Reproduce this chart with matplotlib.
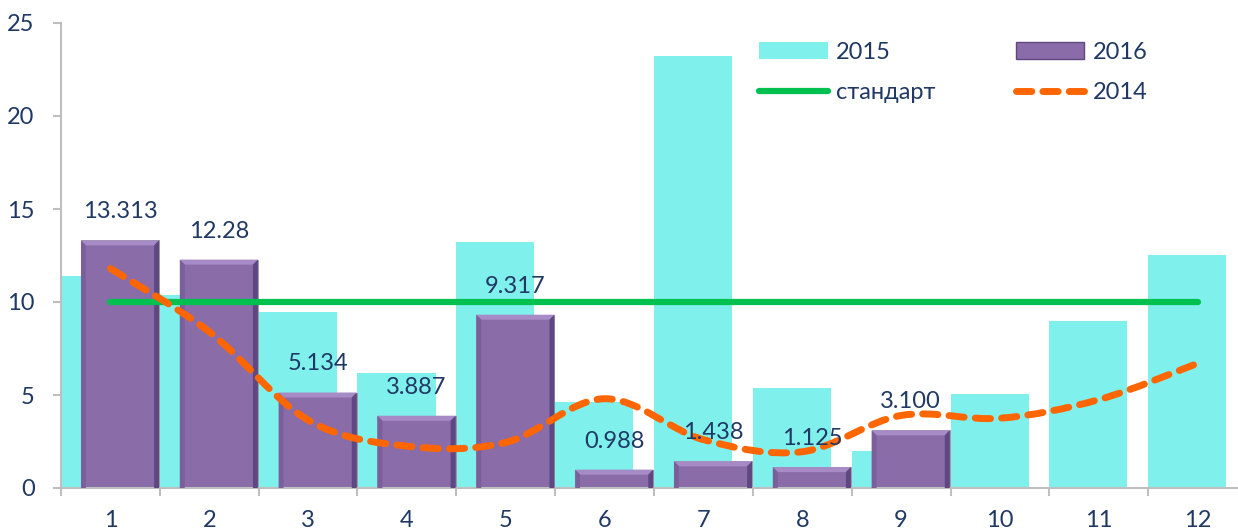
import numpy as np
import matplotlib.pyplot as plt
from matplotlib.patches import Polygon, Rectangle, PathPatch
from matplotlib.path import Path
from matplotlib.lines import Line2D

plt.rcParams['font.family'] = ['Lato', 'DejaVu Sans']

# data
months = [1, 2, 3, 4, 5, 6, 7, 8, 9, 10, 11, 12]
y2015 = [11.4, 10.4, 9.45, 6.2, 13.2, 4.6, 23.25, 5.35, 2.0, 5.05, 9.0, 12.5]
y2016 = [13.313, 12.28, 5.134, 3.887, 9.317, 0.988, 1.438, 1.125, 3.100]
labels2016 = ["13.313", "12.28", "5.134", "3.887", "9.317", "0.988", "1.438", "1.125", "3.100"]
y2014 = [11.8, 8.4, 3.65, 2.25, 2.45, 4.8, 2.6, 1.95, 3.9, 3.75, 4.75, 6.7]
standard = [10] * 12

TXT = '#203864'
CYAN = '#80F0EC'
PURPLE = '#8A6CA9'
GREEN = '#00C050'
ORANGE = '#FF6600'
GRAY = '#BFBFBF'
FS = 17

fig = plt.figure(figsize=(12.38, 5.32), dpi=100)
ax = fig.add_axes([61 / 1238, 44 / 532, 1186 / 1238, 465 / 532])

x = np.array(months, dtype=float)
w = 0.79
ax.bar(x - 0.105, y2015, width=w, color=CYAN, zorder=1)

x16 = x[:len(y2016)] + 0.097
bars = ax.bar(x16, y2016, width=w, color=PURPLE, edgecolor='#9A9A9A', linewidth=0.6, zorder=2)

# bevel effect on 2016 bars
bx, by = 0.05, 0.27
for b in bars:
    x0, x1 = b.get_x(), b.get_x() + b.get_width()
    h = b.get_height()
    byy = min(by, h / 3)
    ax.add_patch(Polygon([(x0, h), (x1, h), (x1 - bx, h - byy), (x0 + bx, h - byy)],
                         closed=True, facecolor='#A68BC6', edgecolor='none', zorder=3))
    ax.add_patch(Polygon([(x0, 0), (x0, h), (x0 + bx, h - byy), (x0 + bx, 0)],
                         closed=True, facecolor='#7B5F9B', edgecolor='none', zorder=3))
    ax.add_patch(Polygon([(x1, 0), (x1, h), (x1 - bx, h - byy), (x1 - bx, 0)],
                         closed=True, facecolor='#5F4881', edgecolor='none', zorder=3))

for xi, yi, lab in zip(x16, y2016, labels2016):
    ax.annotate(lab, (xi, yi), xytext=(0, 13), textcoords='offset points',
                ha='center', va='bottom', fontsize=FS, color=TXT, zorder=6)

ax.plot(x, standard, color=GREEN, lw=4.5, solid_capstyle='round', zorder=4)

# smoothed 2014 line (Bezier through the points, like a spreadsheet "smoothed line")
pts = np.column_stack([x, y2014])
verts = [pts[0]]
codes = [Path.MOVETO]
n = len(pts)
for i in range(n - 1):
    p0 = pts[max(i - 1, 0)]
    p1 = pts[i]
    p2 = pts[i + 1]
    p3 = pts[min(i + 2, n - 1)]
    verts += [p1 + (p2 - p0) / 6, p2 - (p3 - p1) / 6, p2]
    codes += [Path.CURVE4] * 3
ax.add_patch(PathPatch(Path(verts, codes), facecolor='none', edgecolor=ORANGE, lw=5,
                       linestyle=(0, (2.2, 1.6)), capstyle='round', zorder=5))

ax.set_xlim(0.5, 12.5)
ax.set_ylim(0, 25)
ax.set_yticks([0, 5, 10, 15, 20, 25])
ax.set_xticks(months)
ax.set_xticks(np.arange(0.5, 13, 1), minor=True)
ax.tick_params(axis='x', which='major', length=0, pad=16, labelsize=FS, labelcolor=TXT)
ax.tick_params(axis='x', which='minor', length=6, width=1.5, color=GRAY, direction='out')
ax.tick_params(axis='y', length=6, width=1.5, color=GRAY, pad=13, labelsize=FS, labelcolor=TXT)
for s in ['top', 'right']:
    ax.spines[s].set_visible(False)
for s in ['left', 'bottom']:
    ax.spines[s].set_color(GRAY)
    ax.spines[s].set_linewidth(1.5)

handles = [Rectangle((0, 0), 1, 1, facecolor=CYAN),
           Line2D([], [], color=GREEN, lw=4.5, solid_capstyle='round'),
           Rectangle((0, 0), 1, 1, facecolor=PURPLE, edgecolor='#5F4881'),
           Line2D([], [], color=ORANGE, lw=5, linestyle=(0, (2.2, 1.6)), dash_capstyle='round')]
names = ['2015', 'стандарт', '2016', '2014']
leg = ax.legend(handles, names, ncol=2, frameon=False, fontsize=FS, labelcolor=TXT,
                handlelength=2.9, handleheight=0.7, handletextpad=0.35, columnspacing=3.4,
                labelspacing=0.8, loc='upper left', bbox_to_anchor=(0.571, 1.005))

fig.savefig('out.png', dpi=100)
